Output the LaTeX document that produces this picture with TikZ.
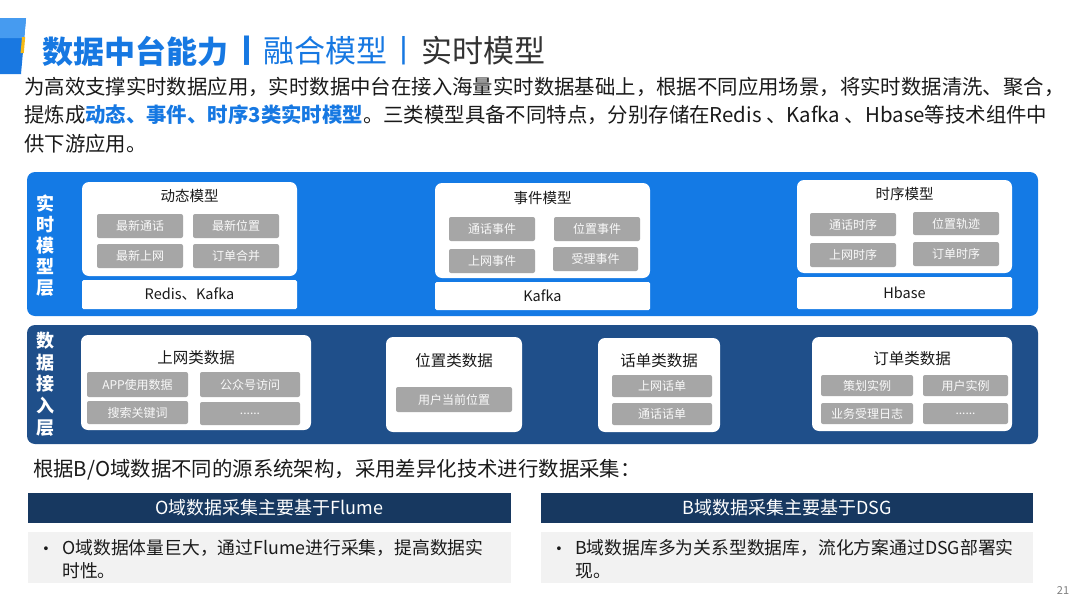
\documentclass[tikz,border=0pt]{standalone}
\usepackage{fontspec}
\setmainfont{Noto Sans CJK SC}
\definecolor{titleblue}{RGB}{22,120,226}
\definecolor{titlegray}{RGB}{51,51,51}
\definecolor{panelblue}{RGB}{20,122,229}
\definecolor{panelnavy}{RGB}{31,79,138}
\definecolor{headnavy}{RGB}{23,56,96}
\definecolor{itemgray}{RGB}{166,166,166}
\definecolor{lightbg}{RGB}{242,242,242}
\definecolor{textdark}{RGB}{26,26,26}
\definecolor{decoA}{RGB}{70,155,240}
\definecolor{decoB}{RGB}{25,120,225}
\definecolor{decoY}{RGB}{245,185,20}
\newcommand\fsz[1]{\fontsize{#1}{#1}\selectfont}
\newcommand\bx[7]{\node[#2, minimum width={(#5-#3)*1pt}, minimum height={(#6-#4)*1pt}] (#1) at ({(#3+#5)/2},{(#4+#6)/2}) {#7};}
\begin{document}
\begin{tikzpicture}[x=1pt,y=-1pt,
  panelA/.style={fill=panelblue, rounded corners=8pt, inner sep=0},
  panelB/.style={fill=panelnavy, rounded corners=8pt, inner sep=0},
  wbox/.style={fill=white, rounded corners=7pt, inner sep=0},
  sbox/.style={fill=white, rounded corners=1.5pt, inner sep=0, text=textdark, font=\fsz{14.5}},
  gitem/.style={fill=itemgray, rounded corners=2pt, inner sep=0, text=white!95!gray, font=\fsz{12}},
  btitle/.style={inner sep=0, text=textdark, font=\fsz{14.5}},
  dtitle/.style={inner sep=0, text=textdark, font=\fsz{15.5}},
  vlabel/.style={inner sep=0, text=white, align=center},
  para/.style={inner sep=0, text=textdark, font=\fsz{20.4}, anchor=west},
  head/.style={fill=headnavy, inner sep=0, text=white, font=\fsz{18}},
  gbox/.style={fill=lightbg, inner sep=0},
  btxt/.style={inner sep=0, text=textdark, font=\fsz{17.8}, anchor=west}]
\useasboundingbox (0,0) rectangle (1080,608);
\fill[white] (0,0) rectangle (1080,608);
% decoration
\fill[decoB] (0,18) -- (26,18) -- (21,74) -- (0,74) -- cycle;
\fill[decoA] (0,18) -- (26,18) -- (24.2,38) -- (0,38) -- cycle;
\fill[decoY] (22,37) -- (25.2,37) -- (23.8,53) -- (20.6,53) -- cycle;
% title
\node[inner sep=0, anchor=west, text=titleblue, font=\bfseries\fsz{31}] (t1) at (42,51) {数据中台能力};
\node[inner sep=0, text=titleblue, font=\bfseries\fsz{31}] (bar1) at (247,51) {丨};
\node[inner sep=0, anchor=west, text=titleblue, font=\fsz{31}] (t2) at (263,51) {融合模型};
\node[inner sep=0, text=titleblue, font=\fsz{31}] (bar2) at (404,51) {丨};
\node[inner sep=0, anchor=west, text=titlegray, font=\fsz{31}] (t3) at (421,51) {实时模型};
% paragraph
\node[para] (p1) at (24,87) {为高效支撑实时数据应用，实时数据中台在接入海量实时数据基础上，根据不同应用场景，将实时数据清洗、聚合，};
\node[para] (p2) at (24,115) {提炼成{\bfseries\color{titleblue}动态、事件、时序3类实时模型}。三类模型具备不同特点，分别存储在Redis 、Kafka 、Hbase等技术组件中};
\node[para] (p3) at (24,144) {供下游应用。};
% upper panel
\bx{pA}{panelA}{27}{172}{1038}{316}{}
\node[vlabel, font={\bfseries\fontsize{18}{21}\selectfont}] (lA) at (45,246) {实\\时\\模\\型\\层};
% dynamic model
\bx{mD}{wbox}{82}{182}{297}{276}{}
\node[btitle] (mDt) at (189.5,196) {动态模型};
\bx{d1}{gitem}{97}{214}{183}{238}{最新通话}
\bx{d2}{gitem}{193}{214}{279}{238}{最新位置}
\bx{d3}{gitem}{97}{244}{183}{268}{最新上网}
\bx{d4}{gitem}{193}{244}{279}{268}{订单合并}
\bx{sD}{sbox}{82}{280}{297}{309}{Redis、Kafka}
% event model
\bx{mE}{wbox}{435}{183}{650}{278}{}
\node[btitle] (mEt) at (542.5,198) {事件模型};
\bx{e1}{gitem}{449}{217}{535}{241}{通话事件}
\bx{e2}{gitem}{554}{217}{640}{241}{位置事件}
\bx{e3}{gitem}{449}{249}{535}{273}{上网事件}
\bx{e4}{gitem}{553}{247}{638}{271}{受理事件}
\bx{sE}{sbox}{435}{282}{650}{310}{Kafka}
% time model
\bx{mT}{wbox}{797}{180}{1012}{273}{}
\node[btitle] (mTt) at (904.5,194) {时序模型};
\bx{s1}{gitem}{810}{213}{896}{236}{通话时序}
\bx{s2}{gitem}{913}{212}{999}{235}{位置轨迹}
\bx{s3}{gitem}{810}{243}{896}{267}{上网时序}
\bx{s4}{gitem}{913}{242}{999}{266}{订单时序}
\bx{sT}{sbox}{797}{277}{1012}{309}{Hbase}
% lower panel
\bx{pB}{panelB}{27}{325}{1038}{444}{}
\node[vlabel, font={\bfseries\fontsize{18}{21.7}\selectfont}] (lB) at (45,384) {数\\据\\接\\入\\层};
% web data
\bx{bW}{wbox}{81}{335}{311}{430}{}
\node[dtitle] (bWt) at (196,358) {上网类数据};
\bx{w1}{gitem}{87}{372}{188}{397}{APP使用数据}
\bx{w2}{gitem}{200}{372}{300}{397}{公众号访问}
\bx{w3}{gitem}{87}{401}{188}{424}{搜索关键词}
\bx{w4}{gitem}{200}{402}{300}{425}{......}
% location data
\bx{bL}{wbox}{386}{337}{522}{432}{}
\node[dtitle] (bLt) at (454,361) {位置类数据};
\bx{l1}{gitem}{396}{387}{512}{412}{用户当前位置}
% call data
\bx{bC}{wbox}{598}{338}{720}{432}{}
\node[dtitle] (bCt) at (659,361) {话单类数据};
\bx{c1}{gitem}{612}{375}{712}{397}{上网话单}
\bx{c2}{gitem}{612}{403}{712}{425}{通话话单}
% order data
\bx{bO}{wbox}{812}{337}{1012}{431}{}
\node[dtitle] (bOt) at (912,359) {订单类数据};
\bx{o1}{gitem}{821}{375}{913}{396}{策划实例}
\bx{o2}{gitem}{923}{375}{1008}{396}{用户实例}
\bx{o3}{gitem}{821}{403}{913}{424}{业务受理日志}
\bx{o4}{gitem}{923}{403}{1008}{424}{......}
% bottom
\node[para] (lead) at (33,470) {根据B/O域数据不同的源系统架构，采用差异化技术进行数据采集：};
\bx{hO}{head}{28}{493}{511}{523}{O域数据采集主要基于Flume}
\bx{hB}{head}{541}{493}{1033}{523}{B域数据采集主要基于DSG}
\bx{gO}{gbox}{28}{532}{511}{583}{}
\bx{gB}{gbox}{541}{532}{1033}{583}{}
\node[btxt] (bulO) at (37,551) {•};
\node[btxt] (tO1) at (62,548) {O域数据体量巨大，通过Flume进行采集，提高数据实};
\node[btxt] (tO2) at (62,571) {时性。};
\node[btxt] (bulB) at (550,551) {•};
\node[btxt] (tB1) at (575,548) {B域数据库多为关系型数据库，流化方案通过DSG部署实};
\node[btxt] (tB2) at (575,571) {现。};
\node[inner sep=0, text=gray, font=\fsz{11}] (pg) at (1063,591) {21};
\end{tikzpicture}
\end{document}
